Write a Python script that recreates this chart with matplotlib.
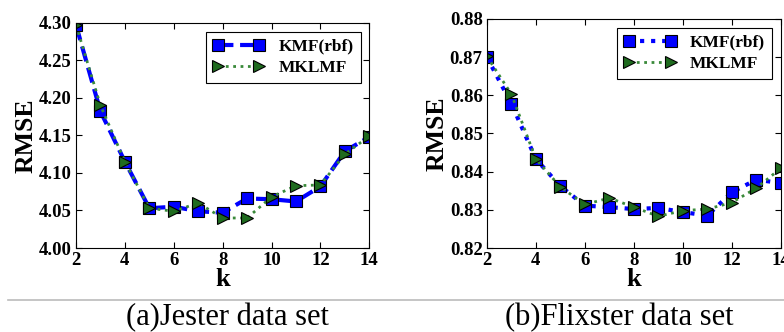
import numpy as np
import matplotlib
matplotlib.use("Agg")
import matplotlib.pyplot as plt
from matplotlib.lines import Line2D

# k values (number of latent factors)
k = [2, 3, 4, 5, 6, 7, 8, 9, 10, 11, 12, 13, 14]

# Jester data set
jester_kmf = [4.297, 4.182, 4.115, 4.053, 4.055, 4.049, 4.047, 4.066, 4.065, 4.062, 4.082, 4.129, 4.148]
jester_mklmf = [4.297, 4.190, 4.115, 4.053, 4.049, 4.060, 4.040, 4.040, 4.068, 4.083, 4.084, 4.125, 4.149]

# Flixster data set
flixster_kmf = [0.8700, 0.8578, 0.8433, 0.8362, 0.8311, 0.8307, 0.8302, 0.8305, 0.8294, 0.8285, 0.8346, 0.8379, 0.8370]
flixster_mklmf = [0.8702, 0.8603, 0.8433, 0.8360, 0.8314, 0.8331, 0.8307, 0.8283, 0.8298, 0.8302, 0.8319, 0.8357, 0.8409]

jester_yticks = [4.00, 4.05, 4.10, 4.15, 4.20, 4.25, 4.30]
flixster_yticks = [0.82, 0.83, 0.84, 0.85, 0.86, 0.87, 0.88]
captions = ["(a)Jester data set", "(b)Flixster data set"]

plt.rcParams['font.family'] = ['Liberation Serif', 'DejaVu Serif']
plt.rcParams['font.weight'] = 'bold'

fig = plt.figure(figsize=(7.84, 3.32), dpi=100)
ax1 = fig.add_axes([0.097, 0.253, 0.374, 0.678])
ax2 = fig.add_axes([0.621, 0.253, 0.375, 0.690])


def draw_panel(ax, kmf, mklmf, ylim, yticks, kmf_ls):
    ax.plot(k, kmf, linestyle=kmf_ls, color='#0000ff', lw=3, marker='s', ms=8,
            mfc='#0000ff', mec='black', mew=0.8, label='KMF(rbf)')
    ax.plot(k, mklmf, linestyle=':', color='#3a8a3a', lw=2, marker='>', ms=8,
            mfc='#1f6b1f', mec='black', mew=0.8, label='MKLMF')
    ax.set_xlim(2, 14)
    ax.set_ylim(*ylim)
    ax.set_xticks(range(2, 15, 2))
    ax.set_yticks(yticks)
    ax.set_yticklabels(['%.2f' % v for v in yticks])
    ax.tick_params(direction='in', top=True, right=True, labelsize=13.5, length=4, width=0.8, pad=3)
    for lbl in ax.get_xticklabels() + ax.get_yticklabels():
        lbl.set_fontweight('bold')
    ax.set_xlabel('k', fontsize=19, fontweight='bold', labelpad=-1)
    ax.set_ylabel('RMSE', fontsize=18.5, fontweight='bold', labelpad=1)
    leg = ax.legend(loc='upper right', numpoints=2, fancybox=False, framealpha=1,
                    prop={'weight': 'bold', 'size': 12.5}, handlelength=3.0,
                    borderaxespad=0.5, labelspacing=0.3, edgecolor='black')
    leg.get_frame().set_linewidth(0.8)


draw_panel(ax1, jester_kmf, jester_mklmf, (4.00, 4.30), jester_yticks, '--')
draw_panel(ax2, flixster_kmf, flixster_mklmf, (0.82, 0.88), flixster_yticks, ':')

# separator line and captions
fig.add_artist(Line2D([0.01, 1.0], [1 - 300 / 332, 1 - 300 / 332], color='#bbbbbb', lw=1.2))
fig.text(0.29, 1 - 318 / 332, captions[0], ha='center', va='center', fontsize=22, fontweight='normal')
fig.text(0.79, 1 - 318 / 332, captions[1], ha='center', va='center', fontsize=22, fontweight='normal')

fig.savefig('out.png', dpi=100)
